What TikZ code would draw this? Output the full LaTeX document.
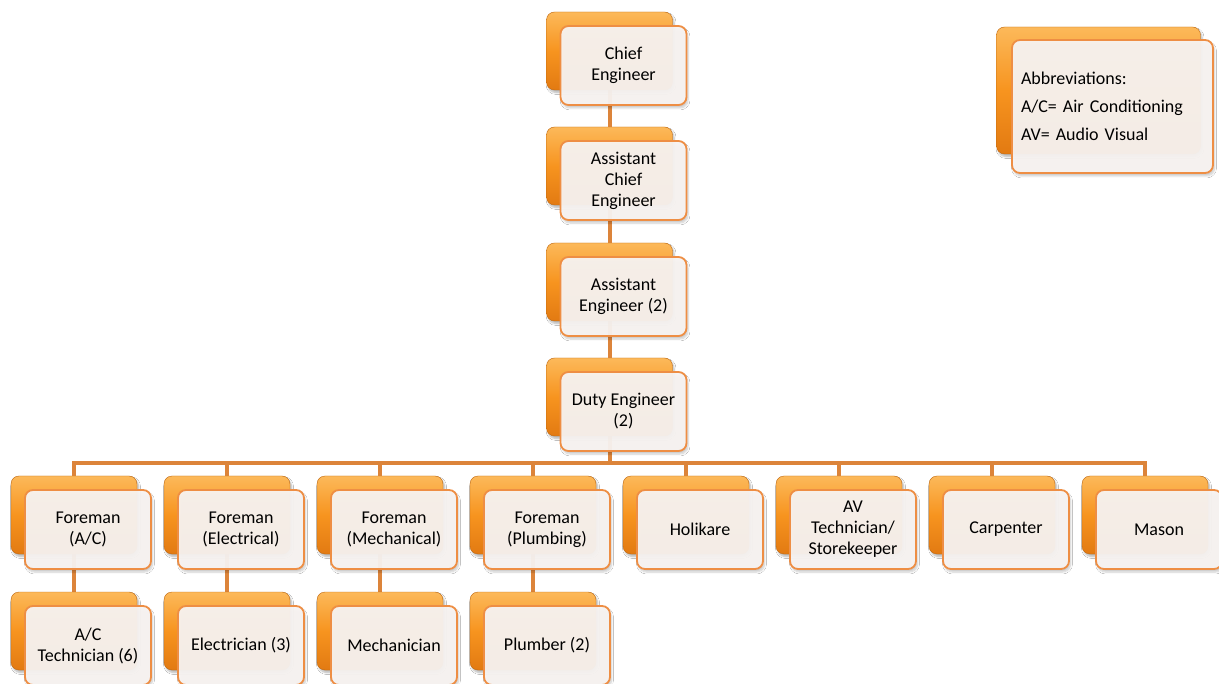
\documentclass[tikz,border=0pt]{standalone}
\usepackage{fontspec}
\setmainfont{Carlito}
\usetikzlibrary{calc,shadows.blur}

\definecolor{obTop}{HTML}{FCB95A}
\definecolor{obMid}{HTML}{F7941F}
\definecolor{obBot}{HTML}{E27A12}
\definecolor{frontFill}{HTML}{F8F4F2}
\definecolor{frontLine}{HTML}{EE8E44}
\definecolor{linkCol}{HTML}{DC843A}

\tikzset{
  slot/.style={rectangle, minimum width=126pt, minimum height=78pt, inner sep=0pt},
  backbox/.style={slot, rounded corners=8pt,
    top color=obTop, bottom color=obBot, middle color=obMid,
    draw=obBot!85!black, line width=0.4pt,
    blur shadow={shadow xshift=1.5pt, shadow yshift=-2.5pt, shadow blur steps=6, shadow opacity=30}},
  frontbox/.style={rectangle, rounded corners=8pt, minimum width=126pt, minimum height=79pt,
    inner sep=2pt, fill=frontFill, fill opacity=0.95, text opacity=1, draw=frontLine, line width=1.8pt,
    align=center, text=black, font=\fontsize{18}{21}\selectfont,
    blur shadow={shadow xshift=1.5pt, shadow yshift=-3pt, shadow blur steps=6, shadow opacity=22}},
  link/.style={draw=linkCol, line width=4pt}
}

% position of a card's orange plate, used to route connectors
\newcommand{\cardslot}[3]{\node[slot] (#1B) at (#2,#3+39) {};}
% a card: orange back plate with cream front label
\newcommand{\card}[4]{%
  \node[backbox] (#1P) at (#2,#3+39) {};
  \node[frontbox] (#1) at (#2+14,#3+53.5) {#4};
}

\begin{document}
\begin{tikzpicture}[x=1pt,y=-1pt]
\useasboundingbox (0,0) rectangle (1219,684);
\fill[white] (0,0) rectangle (1219,684);

% card positions
\cardslot{chief}{609.5}{12}
\cardslot{achief}{609.5}{127}
\cardslot{aeng}{609.5}{243}
\cardslot{duty}{609.5}{358}
\foreach \n/\x in {fa/74,fb/227,fc/380,fd/533,fe/686,ff/839,fg/992,fh/1145}{
  \cardslot{\n}{\x}{476}
}
\foreach \n/\x in {wa/74,wb/227,wc/380,wd/533}{
  \cardslot{\n}{\x}{592}
}

% connectors, drawn first so the cards cover them
\coordinate (bus) at (609.5,463);
\draw[link] (chiefB.south) -- (achiefB.north);
\draw[link] (achiefB.south) -- (aengB.north);
\draw[link] (aengB.south) -- (dutyB.north);
\draw[link] (dutyB.south) -- (bus);
\foreach \n in {fa,fb,fc,fd,fe,ff,fg,fh}{
  \draw[link] (bus) -| (\n B.north);
}
\draw[link] (faB.south) -- (waB.north);
\draw[link] (fbB.south) -- (wbB.north);
\draw[link] (fcB.south) -- (wcB.north);
\draw[link] (fdB.south) -- (wdB.north);

% top chain
\card{chief}{609.5}{12}{Chief\\Engineer}
\card{achief}{609.5}{127}{Assistant\\Chief\\Engineer}
\card{aeng}{609.5}{243}{Assistant\\Engineer (2)}
\card{duty}{609.5}{358}{Duty Engineer\\(2)}

% foremen and trades row
\card{fa}{74}{476}{Foreman\\(A/C)}
\card{fb}{227}{476}{Foreman\\(Electrical)}
\card{fc}{380}{476}{Foreman\\(Mechanical)}
\card{fd}{533}{476}{Foreman\\(Plumbing)}
\card{fe}{686}{476}{Holikare}
\card{ff}{839}{476}{AV\\Technician/\\Storekeeper}
\card{fg}{992}{476}{Carpenter}
\card{fh}{1145}{476}{Mason}

% workers row
\card{wa}{74}{592}{A/C\\Technician (6)}
\card{wb}{227}{592}{Electrician (3)}
\card{wc}{380}{592}{Mechanician}
\card{wd}{533}{592}{Plumber (2)}

% abbreviations legend
\node[backbox, minimum width=204pt, minimum height=127pt] (abbrP) at (1098.5,90.5) {};
\node[frontbox, minimum width=201pt, minimum height=133pt, align=left, text width=183pt,
  font=\fontsize{18}{28}\selectfont] (abbr) at (1112.5,106.5)
  {Abbreviations:\\A/C= Air Conditioning\\AV= Audio Visual};
\end{tikzpicture}
\end{document}
